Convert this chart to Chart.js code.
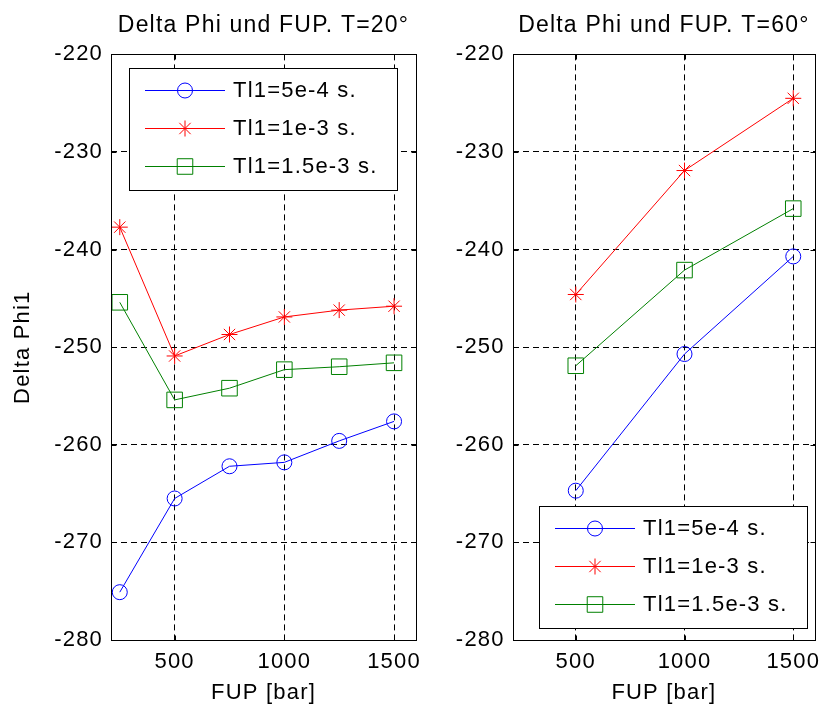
<!DOCTYPE html>
<html>
<head>
<meta charset="utf-8">
<title>Delta Phi und FUP</title>
<script src="https://cdn.jsdelivr.net/npm/chart.js@4.4.1/dist/chart.umd.min.js"></script>
<style>
  html, body { margin: 0; padding: 0; background: #fff; }
  #wrap { position: relative; width: 827px; height: 709px; }
  canvas { position: absolute; top: 0; }
  #left { left: 0; }
  #right { left: 450px; }
</style>
</head>
<body>
<div id="wrap">
  <canvas id="left" width="450" height="709"></canvas>
  <canvas id="right" width="377" height="709"></canvas>
</div>
<script>
// values
const fup20 = [250, 500, 750, 1000, 1250, 1500];
const phi20_5e4 = [-275.1, -265.5, -262.2, -261.8, -259.6, -257.6];
const phi20_1e3 = [-237.7, -250.9, -248.7, -246.9, -246.2, -245.8];
const phi20_15e3 = [-245.4, -255.4, -254.2, -252.3, -252.0, -251.6];

const fup60 = [500, 1000, 1500];
const phi60_5e4 = [-264.7, -250.7, -240.7];
const phi60_1e3 = [-244.6, -231.9, -224.5];
const phi60_15e3 = [-251.9, -242.1, -235.8];

const seriesNames = ['Tl1=5e-4 s.', 'Tl1=1e-3 s.', 'Tl1=1.5e-3 s.'];
const xTicks = [500, 1000, 1500];
const yTicks = [-280, -270, -260, -250, -240, -230, -220];
const xRange = [210, 1600];
const yRange = [-280, -220];

// look of each series (matlab-like markers)
const seriesStyles = [
    { color: '#0000ff', pointStyle: 'circle', radius: 7.5 },
    { color: '#ff0000', pointStyle: 'star', radius: 8 },
    { color: '#008000', pointStyle: 'rect', radius: 11 }
];

const fontFamily = '"Liberation Sans", Arial, sans-serif';
const textSize = 22;
Chart.defaults.font.family = fontFamily;
Chart.defaults.color = '#000';

// matlab text comes out a bit wider than Arial, so add some letter spacing
Chart.register({
    id: 'wideText',
    beforeUpdate(chart) { chart.ctx.letterSpacing = '1.2px'; },
    beforeDraw(chart) { chart.ctx.letterSpacing = '1.2px'; }
});

// solid box around the axes plus small inward ticks
const axesBox = {
    id: 'axesBox',
    afterDatasetsDraw(chart) {
        const { ctx, chartArea: a, scales } = chart;
        const l = Math.round(a.left) + 0.5, r = Math.round(a.right) + 0.5;
        const t = Math.round(a.top) + 0.5, b = Math.round(a.bottom) + 0.5;
        ctx.save();
        ctx.setLineDash([]);
        ctx.strokeStyle = '#000';
        ctx.lineWidth = 1;
        ctx.strokeRect(l, t, r - l, b - t);
        ctx.beginPath();
        xTicks.forEach(v => {
            const px = Math.round(scales.x.getPixelForValue(v)) + 0.5;
            ctx.moveTo(px, b); ctx.lineTo(px, b - 5);
            ctx.moveTo(px, t); ctx.lineTo(px, t + 5);
        });
        yTicks.forEach(v => {
            const py = Math.round(scales.y.getPixelForValue(v)) + 0.5;
            ctx.moveTo(l, py); ctx.lineTo(l + 5, py);
            ctx.moveTo(r, py); ctx.lineTo(r - 5, py);
        });
        ctx.stroke();
        ctx.restore();
    }
};

// boxed legend inside the axes, line drawn through the marker
const boxLegend = {
    id: 'boxLegend',
    afterDraw(chart, args, opts) {
        const { ctx, chartArea: a } = chart;
        const w = 268, h = 122;
        const left = Math.round(opts.place === 'nw' ? a.left + 18 : a.right - 8 - w);
        const top = Math.round(opts.place === 'nw' ? a.top + 14 : a.bottom - 12 - h);
        ctx.save();
        ctx.setLineDash([]);
        ctx.fillStyle = '#fff';
        ctx.fillRect(left, top, w, h);
        ctx.strokeStyle = '#000';
        ctx.lineWidth = 1;
        ctx.strokeRect(left + 0.5, top + 0.5, w, h);
        chart.data.datasets.forEach((ds, i) => {
            const y = Math.round(top + 22 + i * 38) + 0.5;
            ctx.strokeStyle = ds.borderColor;
            ctx.lineWidth = 1;
            ctx.beginPath();
            ctx.moveTo(left + 16, y);
            ctx.lineTo(left + 96, y);
            ctx.stroke();
            ctx.fillStyle = 'rgba(0,0,0,0)';
            Chart.helpers.drawPoint(ctx, {
                pointStyle: ds.pointStyle, radius: ds.pointRadius, borderWidth: 1, rotation: 0
            }, left + 56, y);
            ctx.fillStyle = '#000';
            ctx.font = textSize + 'px ' + fontFamily;
            ctx.textAlign = 'left';
            ctx.textBaseline = 'middle';
            ctx.fillText(ds.label, left + 104, y);
        });
        ctx.restore();
    }
};

function makeDatasets(xs, seriesValues) {
    return seriesValues.map((vals, i) => ({
        label: seriesNames[i],
        data: xs.map((x, j) => ({ x: x, y: vals[j] })),
        borderColor: seriesStyles[i].color,
        borderWidth: 1,
        pointStyle: seriesStyles[i].pointStyle,
        pointRadius: seriesStyles[i].radius,
        pointBorderColor: seriesStyles[i].color,
        pointBackgroundColor: 'rgba(0,0,0,0)',
        pointBorderWidth: 1,
        tension: 0
    }));
}

function makeChart(canvasId, title, xs, seriesValues, cfg) {
    return new Chart(document.getElementById(canvasId), {
        type: 'line',
        data: { datasets: makeDatasets(xs, seriesValues) },
        plugins: [axesBox, boxLegend],
        options: {
            responsive: false,
            animation: false,
            layout: { padding: { left: 0, top: 0, right: cfg.padRight, bottom: 0 } },
            plugins: {
                legend: { display: false },
                tooltip: { enabled: false },
                title: {
                    display: true,
                    text: title,
                    fullSize: false,
                    color: '#000',
                    font: { size: 23, weight: 'normal' },
                    padding: { top: 12, bottom: 14.8 }
                },
                boxLegend: { place: cfg.legendPlace }
            },
            scales: {
                x: {
                    type: 'linear',
                    min: xRange[0],
                    max: xRange[1],
                    afterBuildTicks: s => { s.ticks = xTicks.map(v => ({ value: v })); },
                    afterFit: s => {
                        s.height = 69;
                        // tick labels may stick out a little, don't shrink the axes for them
                        s.paddingLeft = 0;
                        s.paddingRight = 0;
                    },
                    grid: { color: '#000', lineWidth: 1, drawTicks: false },
                    border: { display: false, dash: [6, 4] },
                    ticks: {
                        color: '#000', font: { size: textSize }, padding: 9,
                        maxRotation: 0, autoSkip: false,
                        callback: v => String(v)
                    },
                    title: {
                        display: true, text: 'FUP [bar]', color: '#000',
                        font: { size: textSize }, padding: { top: 0, bottom: 3 }
                    }
                },
                y: {
                    type: 'linear',
                    min: yRange[0],
                    max: yRange[1],
                    afterBuildTicks: s => { s.ticks = yTicks.map(v => ({ value: v })); },
                    afterFit: s => { s.width = cfg.yWidth; },
                    grid: { color: '#000', lineWidth: 1, drawTicks: false },
                    border: { display: false, dash: [6, 4] },
                    ticks: {
                        color: '#000', font: { size: textSize }, padding: 8,
                        autoSkip: false,
                        callback: v => String(v)
                    },
                    title: {
                        display: cfg.yTitle, text: 'Delta Phi1', color: '#000',
                        font: { size: textSize }, padding: { top: 10, bottom: 0 }
                    }
                }
            }
        }
    });
}

makeChart('left', 'Delta Phi und FUP. T=20°', fup20,
    [phi20_5e4, phi20_1e3, phi20_15e3],
    { padRight: 34, yWidth: 111, yTitle: true, legendPlace: 'nw' });

makeChart('right', 'Delta Phi und FUP. T=60°', fup60,
    [phi60_5e4, phi60_1e3, phi60_15e3],
    { padRight: 8, yWidth: 62.7, yTitle: false, legendPlace: 'se' });
</script>
</body>
</html>
